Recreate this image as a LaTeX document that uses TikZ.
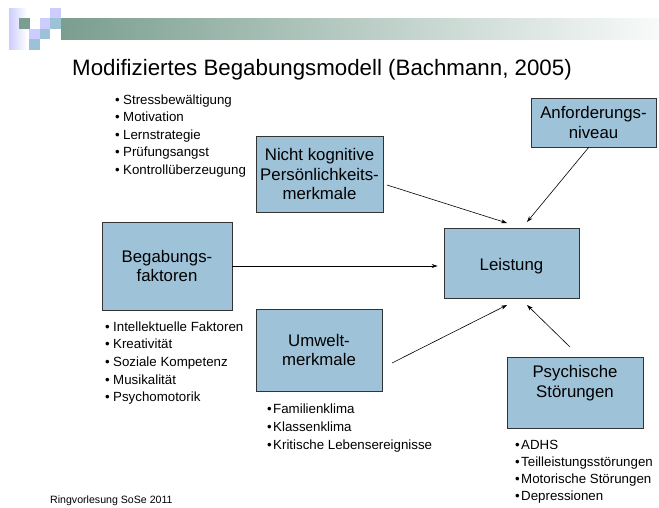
\documentclass[tikz,border=0pt]{standalone}
\usepackage{fontspec}
\setmainfont{Liberation Sans}
\usetikzlibrary{arrows.meta,calc}
\definecolor{boxblue}{RGB}{158,194,216}
\definecolor{tealc}{RGB}{122,158,144}
\definecolor{lav}{RGB}{204,204,255}
\definecolor{lblue}{RGB}{156,194,216}
\definecolor{barend}{RGB}{248,250,249}
\newcommand{\bul}[2]{\makebox[#1][l]{•}#2}
\begin{document}
\begin{tikzpicture}[x=1pt,y=-1pt,
  box/.style={draw=black!80, line width=0.8pt, fill=boxblue, align=center, inner sep=0pt,
    font=\fontsize{16.8}{19.5}\selectfont},
  boxtext/.style={align=center, inner sep=0pt, font=\fontsize{16.8}{19.5}\selectfont},
  li/.style={anchor=base west, inner sep=0pt, font=\fontsize{13.3}{16}\selectfont},
  conn/.style={line width=0.6pt, -{Stealth[length=6pt,width=4pt]}}]
\useasboundingbox (0,0) rectangle (659,507);
% header decoration
\shade[left color=lav, right color=white] (9,8) rectangle (27,49);
\shade[left color=tealc, right color=barend] (61,18) rectangle (659,39);
\fill[tealc] (19,18) rectangle (30,29);
\fill[lav] (29,29) rectangle (40,39);
\fill[lav] (40,18) rectangle (50,29);
\fill[lav] (50,8) rectangle (61,18);
\fill[lblue] (50,18) rectangle (61,29);
\fill[lblue] (40,29) rectangle (50,39);
\fill[lblue] (29,39) rectangle (40,50);
% title
\node[anchor=base, inner sep=0pt, font=\fontsize{22.3}{26}\selectfont] (title) at (322,75)
  {Modifiziertes Begabungsmodell (Bachmann, 2005)};
% boxes
\node[box, minimum width=130pt, minimum height=88pt] (beg) at (167,266) {Begabungs-\\faktoren};
\node[box, minimum width=127pt, minimum height=76pt] (nk) at (319.5,174) {Nicht kognitive\\Persönlichkeits-\\merkmale};
\node[box, minimum width=135pt, minimum height=70pt] (lei) at (511.5,263) {};
\node[boxtext] (leit) at (511.5,266) {Leistung};
\node[box, minimum width=126pt, minimum height=82pt] (umw) at (319,350) {Umwelt-\\merkmale};
\node[box, minimum width=136pt, minimum height=71pt] (psy) at (575,392.5) {};
\node[boxtext] (psyt) at (575,383) {Psychische\\Störungen};
\node[box, minimum width=125pt, minimum height=49pt] (anf) at (593.5,122.5) {Anforderungs-\\niveau};
% connector ends
\coordinate (nk-s) at (387,185);
\coordinate (lei-n1) at (507,223);
\coordinate (anf-s) at (589,147);
\coordinate (lei-n2) at (527,222);
\coordinate (umw-s) at (392,363);
\coordinate (lei-s1) at (507,305);
\coordinate (psy-s) at (570,347);
\coordinate (lei-s2) at (527,305);
% connectors
\draw[conn, shorten >=6pt] (beg.east) -- (beg.east -| lei.west);
\draw[conn] (nk-s) -- (lei-n1);
\draw[conn] (anf-s) -- (lei-n2);
\draw[conn] (umw-s) -- (lei-s1);
\draw[conn] (psy-s) -- (lei-s2);
% lists
\foreach \t [count=\i] in {Stressbewältigung,Motivation,Lernstrategie,Prüfungsangst,Kontrollüberzeugung}
  \node[li] (la\i) at (115,{104+17.5*(\i-1)}) {\bul{8pt}{\t}};
\foreach \t [count=\i] in {Intellektuelle Faktoren,Kreativität,Soziale Kompetenz,Musikalität,Psychomotorik}
  \node[li] (lb\i) at (105,{331+17.7*(\i-1)}) {\bul{8pt}{\t}};
\foreach \t [count=\i] in {Familienklima,Klassenklima,Kritische Lebensereignisse}
  \node[li] (lc\i) at (267,{413+18*(\i-1)}) {\bul{6pt}{\t}};
\foreach \t [count=\i] in {ADHS,Teilleistungsstörungen,Motorische Störungen,Depressionen}
  \node[li] (ld\i) at (515,{449+17*(\i-1)}) {\bul{6pt}{\t}};
% footer
\node[anchor=base west, inner sep=0pt, font=\fontsize{10.6}{12}\selectfont] (foot) at (50,503.5) {Ringvorlesung SoSe 2011};
\end{tikzpicture}
\end{document}
